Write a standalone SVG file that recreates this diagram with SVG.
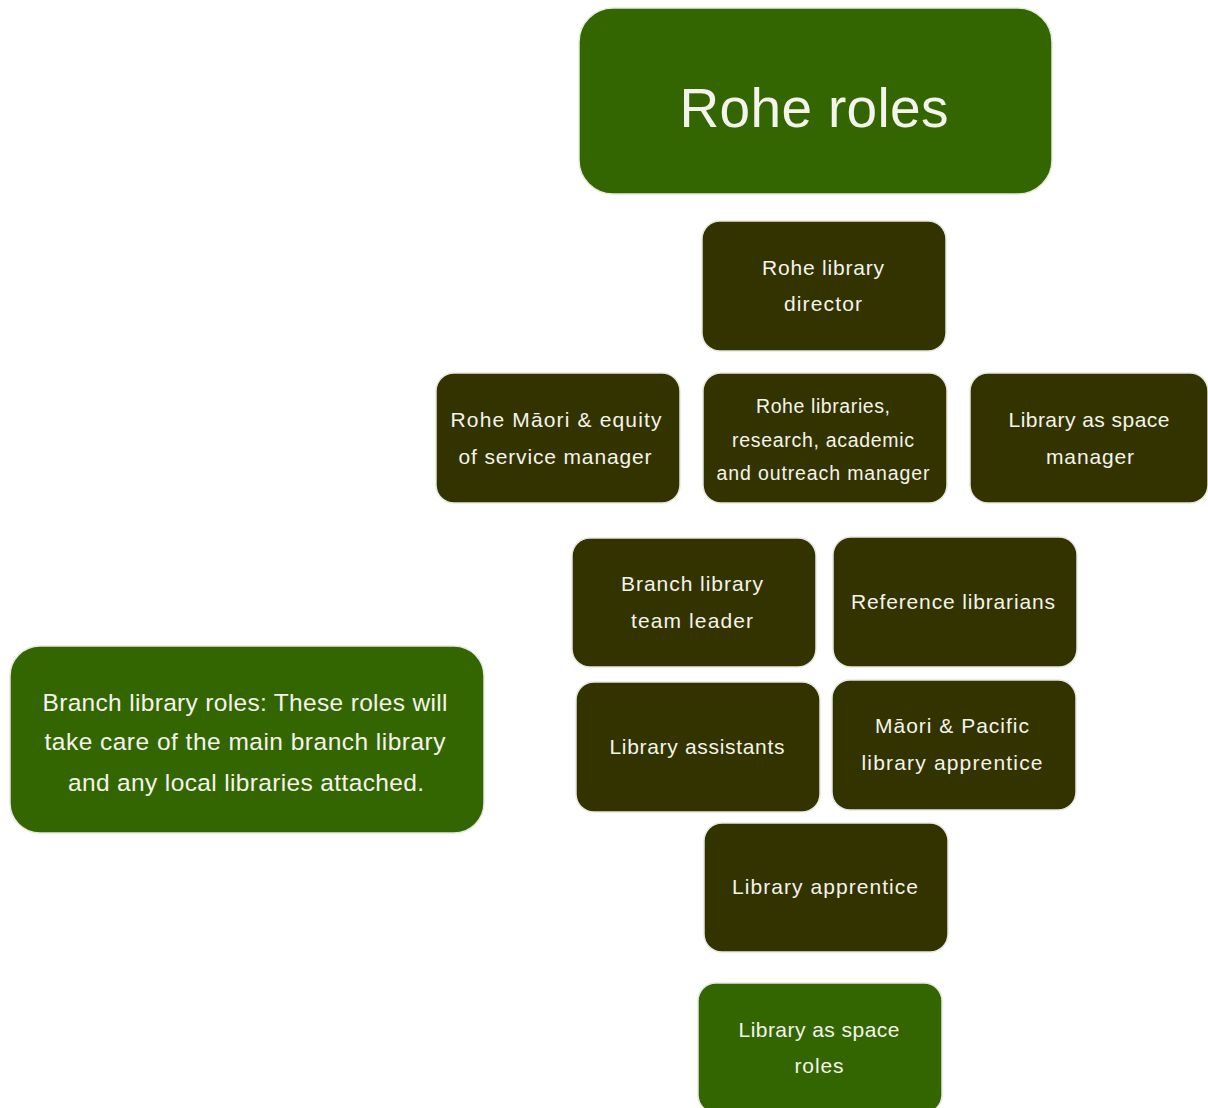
<svg xmlns="http://www.w3.org/2000/svg" width="1208" height="1108" viewBox="0 0 1208 1108">
<style>
.g{fill:#336600;stroke:#e6e9e0;stroke-width:1.5}
.d{fill:#333300;stroke:#e6e9e0;stroke-width:1.5}
text{font-family:"Liberation Sans",Arial,sans-serif;fill:#f4f4ec;text-anchor:middle}
.t{font-size:21px}
.s{font-size:19.5px}
.b{font-size:24.5px}
</style>
<rect width="1208" height="1108" fill="#ffffff"/>
<g id="connectors"></g>
<g id="rohe-roles"><rect class="g" x="579" y="8" width="473" height="186" rx="34"/><text x="814" y="127" style="font-size:55px" textLength="269" lengthAdjust="spacing">Rohe roles</text></g>
<g id="director"><rect class="d" x="702" y="221" width="244" height="130" rx="18"/><text class="t" x="823" y="275" textLength="122" lengthAdjust="spacing">Rohe library</text><text class="t" x="823" y="311" textLength="78" lengthAdjust="spacing">director</text></g>
<g id="maori-equity"><rect class="d" x="436" y="373" width="244" height="130" rx="18"/><text class="t" x="556" y="427" textLength="211" lengthAdjust="spacing">Rohe Māori &amp; equity</text><text class="t" x="555" y="464" textLength="193" lengthAdjust="spacing">of service manager</text></g>
<g id="research"><rect class="d" x="703" y="373" width="244" height="130" rx="18"/><text class="s" x="823" y="413" textLength="134" lengthAdjust="spacing">Rohe libraries,</text><text class="s" x="823" y="447" textLength="182" lengthAdjust="spacing">research, academic</text><text class="s" x="823" y="480" textLength="213" lengthAdjust="spacing">and outreach manager</text></g>
<g id="space-manager"><rect class="d" x="970" y="373" width="238" height="130" rx="18"/><text class="t" x="1089" y="427" textLength="161" lengthAdjust="spacing">Library as space</text><text class="t" x="1090" y="464" textLength="88" lengthAdjust="spacing">manager</text></g>
<g id="team-leader"><rect class="d" x="572" y="538" width="244" height="129" rx="18"/><text class="t" x="692" y="591" textLength="142" lengthAdjust="spacing">Branch library</text><text class="t" x="692" y="628" textLength="122" lengthAdjust="spacing">team leader</text></g>
<g id="reference"><rect class="d" x="833" y="537" width="244" height="130" rx="18"/><text class="t" x="953" y="609" textLength="204" lengthAdjust="spacing">Reference librarians</text></g>
<g id="assistants"><rect class="d" x="576" y="682" width="244" height="130" rx="18"/><text class="t" x="697" y="754" textLength="175" lengthAdjust="spacing">Library assistants</text></g>
<g id="pacific"><rect class="d" x="832" y="680" width="244" height="130" rx="18"/><text class="t" x="952" y="733" textLength="154" lengthAdjust="spacing">Māori &amp; Pacific</text><text class="t" x="952" y="770" textLength="181" lengthAdjust="spacing">library apprentice</text></g>
<g id="apprentice"><rect class="d" x="704" y="823" width="244" height="129" rx="18"/><text class="t" x="825" y="894" textLength="186" lengthAdjust="spacing">Library apprentice</text></g>
<g id="space-roles"><rect class="g" x="698" y="983" width="244" height="130" rx="18"/><text class="t" x="819" y="1037" textLength="161" lengthAdjust="spacing">Library as space</text><text class="t" x="819" y="1073" textLength="49" lengthAdjust="spacing">roles</text></g>
<g id="branch-roles"><rect class="g" x="10" y="646" width="474" height="187" rx="30"/><text class="b" x="245" y="711" textLength="405" lengthAdjust="spacing">Branch library roles: These roles will</text><text class="b" x="245" y="750" textLength="401" lengthAdjust="spacing">take care of the main branch library</text><text class="b" x="246" y="791" textLength="356" lengthAdjust="spacing">and any local libraries attached.</text></g>
</svg>
